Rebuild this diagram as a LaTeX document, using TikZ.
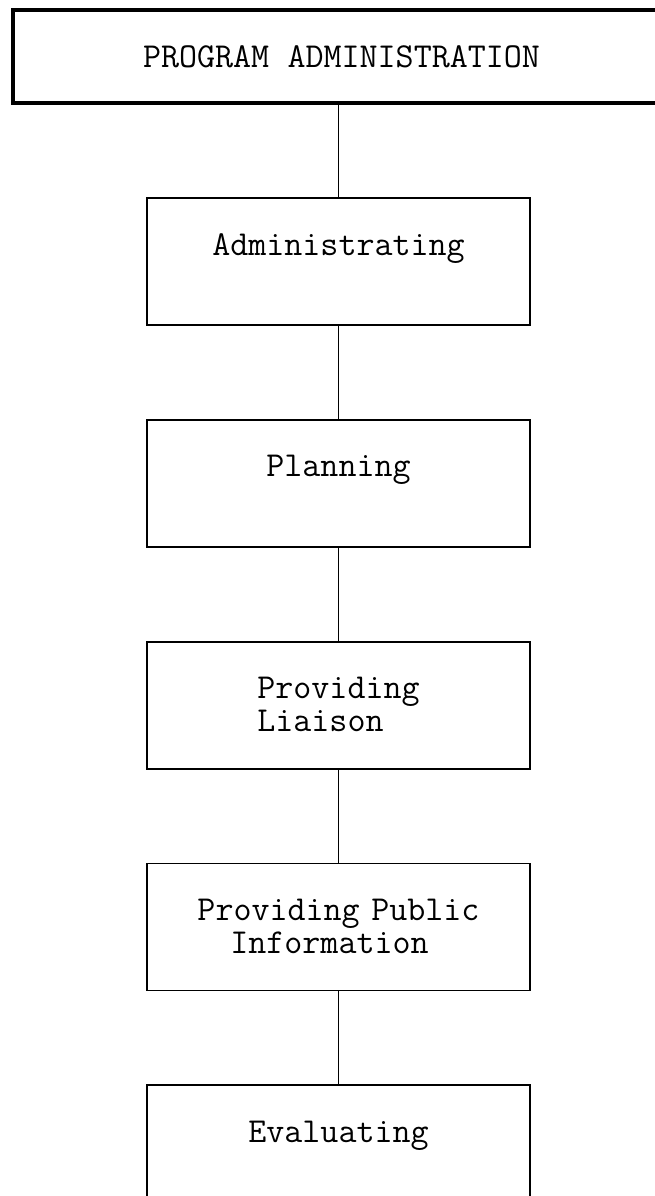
\documentclass[tikz,border=0pt]{standalone}
\usepackage{fontspec}
\usetikzlibrary{positioning}
\newcommand{\chartfont}{\ttfamily\fontsize{35pt}{33pt}\selectfont\spaceskip 18.4pt\relax}
\begin{document}
\begin{tikzpicture}[x=1pt,y=1pt,node distance=93pt,
  font=\chartfont,
  headbox/.style={draw,line width=3.5pt,minimum width=657pt,minimum height=93pt,inner sep=0pt},
  taskbox/.style={draw,line width=1.8pt,minimum width=383pt,text width=383pt,align=center,
    inner sep=0pt,text height=57pt,text depth=70pt},
  link/.style={line width=1.4pt}]
\useasboundingbox (0,0) rectangle (655,-1196);
\node[headbox] (prog) at (341.5,-56.5) {PROGRAM ADMINISTRATION};
\node[taskbox] (admin) at (338.5,-261.5) {Administrating};
\node[taskbox,below=of admin] (plan) {Planning};
\node[taskbox,below=of plan] (liaison) {Providing\\Liaison\phantom{ng}};
\node[taskbox,below=of liaison] (info) {Providing Public\\\phantom{Pr}Information\phantom{Pub}};
\node[taskbox,below=of info] (eval) {Evaluating};

\draw[link] (admin.north |- prog.south) -- (admin.north);
\draw[link] (admin) -- (plan);
\draw[link] (plan) -- (liaison);
\draw[link] (liaison) -- (info);
\draw[link] (info) -- (eval);
\end{tikzpicture}
\end{document}
